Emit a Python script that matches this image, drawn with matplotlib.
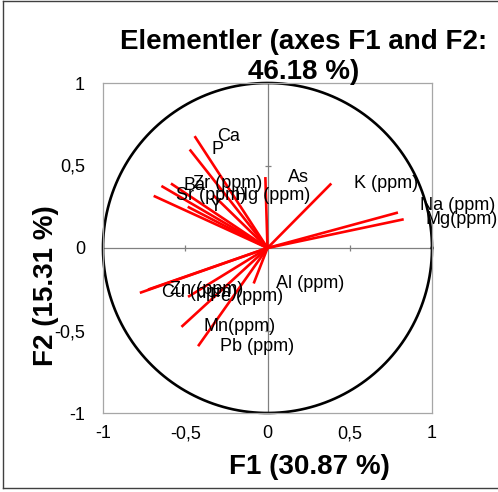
import numpy as np
import matplotlib
matplotlib.use("Agg")
import matplotlib.pyplot as plt
from matplotlib.lines import Line2D

plt.rcParams['font.family'] = ['Liberation Sans', 'DejaVu Sans']

# ---- data ----
variables = ["Ca", "P", "Ba", "Zr (ppm)", "Sr (ppm)", "Y", "Hg (ppm)", "As",
             "K (ppm)", "Na (ppm)", "Mg(ppm)", "Al (ppm)", "Zn (ppm)",
             "Cu (ppm)", "Fe (ppm)", "Mn(ppm)", "Pb (ppm)"]
f1 = [-0.443, -0.473, -0.645, -0.587, -0.692, -0.485, -0.33, -0.013,
      0.388, 0.793, 0.828, -0.084, -0.726, -0.776, -0.483, -0.523, -0.422]
f2 = [0.678, 0.597, 0.376, 0.391, 0.316, 0.250, 0.32, 0.43,
      0.391, 0.215, 0.174, -0.215, -0.252, -0.272, -0.296, -0.478, -0.595]
tick_values = [-1, -0.5, 0, 0.5, 1]
tick_labels = ["-1", "-0,5", "0", "0,5", "1"]
title = "Elementler (axes F1 and F2:\n46.18 %)"
xlabel = "F1 (30.87 %)"
ylabel = "F2 (15.31 %)"
label_nudge = {"Na (ppm)": (0, 5)}  # points

fig = plt.figure(figsize=(4.98, 4.92), dpi=100)
ax = fig.add_axes([103/498, 1-413/492, 329/498, 330/492])

# outer box
for s in ax.spines.values():
    s.set_color("#a6a6a6")
    s.set_linewidth(0.9)

ax.set_xlim(-1, 1)
ax.set_ylim(-1, 1)
ax.set_xticks(tick_values)
ax.set_xticklabels(tick_labels)
ax.set_yticks(tick_values)
ax.set_yticklabels(tick_labels)
ax.tick_params(axis='both', length=0, labelsize=13, colors="#000000")
ax.tick_params(axis='x', pad=9)
ax.tick_params(axis='y', pad=13)

# center axes lines with ticks
ax.axhline(0, color="#808080", lw=0.9, zorder=1)
ax.axvline(0, color="#808080", lw=0.9, zorder=1)
tv = [t for t in tick_values if t != 0]
ax.plot(tv, [0]*len(tv), ls='none', marker='|', ms=5, mew=0.9, color="#808080", zorder=1)
ax.plot([0]*len(tv), tv, ls='none', marker='_', ms=5, mew=0.9, color="#808080", zorder=1)

# correlation circle
th = np.linspace(0, 2*np.pi, 400)
ax.plot(np.cos(th), np.sin(th), color="black", lw=1.9, zorder=2, clip_on=False)

# vectors
for name, x, y in zip(variables, f1, f2):
    ax.plot([0, x], [0, y], color="#ff0000", lw=1.9, zorder=3, solid_capstyle='butt')
    dx, dy = label_nudge.get(name, (0, 0))
    ax.annotate(name, (x, y), xytext=(16 + dx, 0 + dy), textcoords='offset points',
                ha='left', va='center', fontsize=13, color="#000000", zorder=4,
                annotation_clip=False)

# titles
fig.text(304/498, 1-29/492, title, ha='center', va='top', fontsize=20,
         fontweight='bold', multialignment='center', linespacing=1.2)
fig.text(309/498, 1-474/492, xlabel, ha='center', va='baseline', fontsize=20,
         fontweight='bold')
fig.text(46/498, 1-286/492, ylabel, ha='center', va='center', fontsize=20,
         fontweight='bold', rotation=90)

# chart border
bc = "#404040"
fig.add_artist(Line2D([3/498, 3/498], [1-1/492, 1-488/492], transform=fig.transFigure, color=bc, lw=1))
fig.add_artist(Line2D([3/498, 1], [1-1/492, 1-1/492], transform=fig.transFigure, color=bc, lw=1))
fig.add_artist(Line2D([3/498, 1], [1-488/492, 1-488/492], transform=fig.transFigure, color=bc, lw=1))

fig.savefig("out.png", dpi=100)
